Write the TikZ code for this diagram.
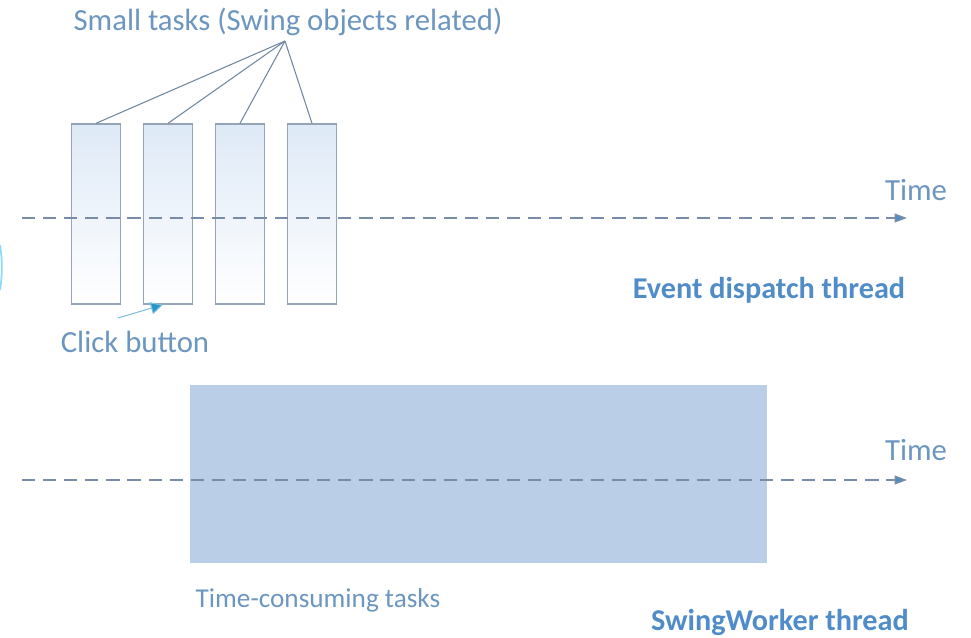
\documentclass[tikz,border=0pt]{standalone}
\usepackage{fontspec}
\setmainfont{Carlito}
\usetikzlibrary{arrows.meta}
\definecolor{lblblue}{RGB}{108,150,192}
\definecolor{thrblue}{RGB}{80,140,200}
\definecolor{dashgray}{RGB}{120,140,168}
\definecolor{boxedge}{RGB}{150,165,182}
\definecolor{boxtop}{RGB}{222,233,247}
\definecolor{fanblue}{RGB}{112,135,160}
\definecolor{workfill}{RGB}{186,206,231}
\definecolor{clickcyan}{RGB}{40,150,200}
\tikzset{
  lbl/.style={text=lblblue, font=\fontsize{17.5}{20}\selectfont, inner sep=0pt},
  thr/.style={text=thrblue, font=\fontsize{17.2}{20}\selectfont\bfseries, inner sep=0pt},
  taskbox/.style={draw=boxedge, line width=0.8pt, top color=boxtop, bottom color=white,
    minimum width=0.98cm, minimum height=3.6cm, inner sep=0pt},
  timeline/.style={dashgray, line width=0.8pt, dash pattern=on 7.5pt off 4.5pt,
    -{Triangle[length=7pt,width=5pt,fill=thrblue]}},
  fanline/.style={fanblue, line width=0.6pt}
}

\begin{document}
\begin{tikzpicture}[x=0.02cm,y=-0.02cm]
    \useasboundingbox (0,0) rectangle (971,637);

    % Labels
    \node[lbl] (small) at (288,22) {Small tasks (Swing objects related)};
    \node[lbl] (time1) at (916,190) {Time};
    \node[thr] (edt) at (769,290) {Event dispatch thread};
    \node[lbl] (click) at (135,342) {Click button};
    \node[lbl] (time2) at (916,450) {Time};
    \node[lbl, font=\fontsize{15.5}{18}\selectfont] (tct) at (318,600) {Time-consuming tasks};
    \node[thr] (swt) at (780,622) {SwingWorker thread};

    % Small tasks on the event dispatch thread
    \foreach \i/\x in {1/96, 2/168, 3/240, 4/312}
        \node[taskbox] (t\i) at (\x,214) {};

    % Time-consuming task on the worker thread
    \node[fill=workfill, minimum width=11.54cm, minimum height=3.56cm, inner sep=0pt] (work) at (478.5,474) {};

    % Lines from the label to the tasks
    \coordinate (fan) at (285,41);
    \foreach \i in {1,...,4}
        \draw[fanline] (fan) -- (t\i.north);

    % Time axes
    \coordinate (edtstart) at (22,218);
    \coordinate (edtend) at (907,218);
    \draw[timeline] (edtstart) -- (edtend);
    \coordinate (swstart) at (22,480);
    \coordinate (swend) at (907,480);
    \draw[timeline] (swstart) -- (swend);

    % Click button pointer
    \coordinate (clickfrom) at (118,318);
    \draw[clickcyan!60, line width=0.6pt, -{Triangle[length=7pt,width=7pt,fill=clickcyan]}] (clickfrom) -- ([xshift=-0.1cm]t2.south);

    % edge of a cut off shape at the left
    \draw[cyan!45, line width=1pt] (0,245) .. controls (2.5,260) and (2.5,275) .. (0,290);
\end{tikzpicture}
\end{document}
